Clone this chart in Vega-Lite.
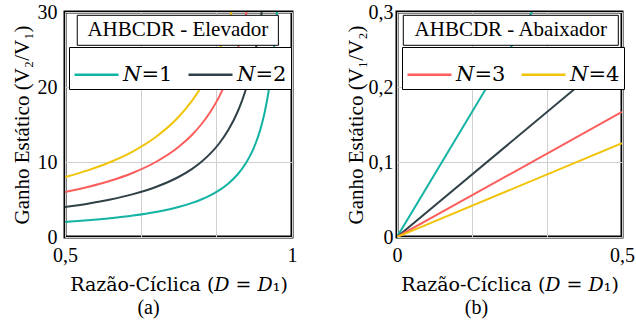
{
  "$schema": "https://vega.github.io/schema/vega-lite/v6.json",
  "padding": {"left": 9, "top": 0, "right": 0, "bottom": 0},
  "background": "white",
  "spacing": 44,
  "config": {
    "font": "Liberation Serif",
    "view": {"stroke": "black", "strokeWidth": 3},
    "axis": {"grid": true, "gridColor": "#cfcfcf", "gridWidth": 1, "domain": false, "ticks": false, "labelFont": "Liberation Serif", "labelFontSize": 20, "labelColor": "black", "labelFlush": false, "labelOverlap": false, "titleFont": "Liberation Serif", "titleFontSize": 21, "titleFontWeight": "normal", "titleColor": "black"},
    "legend": {"orient": "none", "direction": "horizontal", "strokeColor": "black", "fillColor": "white", "padding": 4, "symbolType": "stroke", "symbolSize": 1936, "symbolStrokeWidth": 2.5, "labelFont": "DejaVu Serif", "labelFontSize": 21, "labelColor": "black", "labelOffset": 3, "columnPadding": 10, "labelLimit": 0},
    "title": {"font": "Liberation Serif", "fontSize": 20, "fontWeight": "normal", "color": "black"}
  },
  "datasets": {
    "elev": [
      {"D":0.5,"G":2,"N":1},{"D":0.55,"G":2.222,"N":1},{"D":0.6,"G":2.5,"N":1},{"D":0.65,"G":2.857,"N":1},{"D":0.7,"G":3.333,"N":1},{"D":0.75,"G":4,"N":1},{"D":0.78,"G":4.545,"N":1},{"D":0.8,"G":5,"N":1},{"D":0.82,"G":5.556,"N":1},{"D":0.84,"G":6.25,"N":1},{"D":0.86,"G":7.143,"N":1},{"D":0.88,"G":8.333,"N":1},{"D":0.9,"G":10,"N":1},{"D":0.91,"G":11.111,"N":1},{"D":0.92,"G":12.5,"N":1},{"D":0.93,"G":14.286,"N":1},{"D":0.94,"G":16.667,"N":1},{"D":0.95,"G":20,"N":1},{"D":0.955,"G":22.222,"N":1},{"D":0.96,"G":25,"N":1},{"D":0.9667,"G":30,"N":1},
      {"D":0.5,"G":4,"N":2},{"D":0.55,"G":4.444,"N":2},{"D":0.6,"G":5,"N":2},{"D":0.65,"G":5.714,"N":2},{"D":0.7,"G":6.667,"N":2},{"D":0.75,"G":8,"N":2},{"D":0.78,"G":9.091,"N":2},{"D":0.8,"G":10,"N":2},{"D":0.82,"G":11.111,"N":2},{"D":0.84,"G":12.5,"N":2},{"D":0.86,"G":14.286,"N":2},{"D":0.88,"G":16.667,"N":2},{"D":0.89,"G":18.182,"N":2},{"D":0.9,"G":20,"N":2},{"D":0.91,"G":22.222,"N":2},{"D":0.92,"G":25,"N":2},{"D":0.925,"G":26.667,"N":2},{"D":0.9333,"G":30,"N":2},
      {"D":0.5,"G":6,"N":3},{"D":0.55,"G":6.667,"N":3},{"D":0.6,"G":7.5,"N":3},{"D":0.65,"G":8.571,"N":3},{"D":0.7,"G":10,"N":3},{"D":0.75,"G":12,"N":3},{"D":0.78,"G":13.636,"N":3},{"D":0.8,"G":15,"N":3},{"D":0.82,"G":16.667,"N":3},{"D":0.84,"G":18.75,"N":3},{"D":0.86,"G":21.429,"N":3},{"D":0.88,"G":25,"N":3},{"D":0.89,"G":27.273,"N":3},{"D":0.9,"G":30,"N":3},
      {"D":0.5,"G":8,"N":4},{"D":0.55,"G":8.889,"N":4},{"D":0.6,"G":10,"N":4},{"D":0.65,"G":11.429,"N":4},{"D":0.7,"G":13.333,"N":4},{"D":0.75,"G":16,"N":4},{"D":0.78,"G":18.182,"N":4},{"D":0.8,"G":20,"N":4},{"D":0.82,"G":22.222,"N":4},{"D":0.84,"G":25,"N":4},{"D":0.85,"G":26.667,"N":4},{"D":0.8667,"G":30,"N":4}
    ],
    "abai": [
      {"D":0,"G":0,"N":1},{"D":0.3,"G":0.3,"N":1},
      {"D":0,"G":0,"N":2},{"D":0.5,"G":0.25,"N":2},
      {"D":0,"G":0,"N":3},{"D":0.5,"G":0.1667,"N":3},
      {"D":0,"G":0,"N":4},{"D":0.5,"G":0.125,"N":4}
    ],
    "caixaA": [{"texto": "AHBCDR - Elevador"}],
    "caixaB": [{"texto": "AHBCDR - Abaixador"}]
  },
  "resolve": {"scale": {"color": "independent"}, "legend": {"color": "independent"}},
  "hconcat": [
    {
      "width": 227,
      "height": 225,
      "title": {"text": "(a)", "orient": "bottom", "frame": "group", "anchor": "middle", "dx": -30, "offset": 4},
      "layer": [
        {
          "data": {"name": "elev"},
          "mark": {"type": "line", "strokeWidth": 2, "interpolate": "monotone", "clip": true},
          "encoding": {
            "x": {"field": "D", "type": "quantitative", "scale": {"domain": [0.5, 1], "nice": false, "zero": false},
              "axis": {"values": [0.5, 0.583333, 0.666667, 0.75, 0.833333, 0.916667, 1], "labelPadding": 8, "titlePadding": 10, "titleFont": "DejaVu Serif", "titleFontSize": 19,
                "labelExpr": "(abs(datum.value-0.5)<1e-6 || abs(datum.value-0.75)<1e-6 || abs(datum.value-1)<1e-6) ? replace(format(datum.value, '~g'), '.', ',') : ''",
                "title": "Razão-Cíclica (𝐷 = 𝐷₁)"}},
            "y": {"field": "G", "type": "quantitative", "scale": {"domain": [0, 30], "nice": false},
              "axis": {"values": [0, 5, 10, 15, 20, 25, 30], "labelPadding": 8, "titlePadding": 5,
                "labelExpr": "datum.value % 10 == 0 ? datum.label : ''",
                "title": "Ganho Estático (V₂/V₁)"}},
            "color": {"field": "N", "type": "nominal",
              "scale": {"domain": [1, 2, 3, 4], "range": ["#12b3a3", "#2f4147", "#fb5e5c", "#f1c40a"]},
              "legend": {"values": [1, 2], "title": null, "legendX": 4, "legendY": 35, "labelExpr": "'𝑁=' + datum.label"}}
          }
        },
        {
          "data": {"name": "caixaA"},
          "mark": {"type": "rect", "fill": "white", "stroke": "black", "strokeWidth": 1},
          "encoding": {"x": {"datum": 0.527}, "x2": {"datum": 0.97}, "y": {"datum": 25.56}, "y2": {"datum": 29.56}}
        },
        {
          "data": {"name": "caixaA"},
          "mark": {"type": "text", "fontSize": 21, "font": "Liberation Serif", "color": "black", "baseline": "middle", "align": "center"},
          "encoding": {"x": {"datum": 0.7485}, "y": {"datum": 27.56}, "text": {"field": "texto"}}
        }
      ]
    },
    {
      "width": 225,
      "height": 225,
      "title": {"text": "(b)", "orient": "bottom", "frame": "group", "anchor": "middle", "dx": -33, "offset": 4},
      "layer": [
        {
          "data": {"name": "abai"},
          "mark": {"type": "line", "strokeWidth": 2, "clip": true},
          "encoding": {
            "x": {"field": "D", "type": "quantitative", "scale": {"domain": [0, 0.5], "nice": false},
              "axis": {"values": [0, 0.083333, 0.166667, 0.25, 0.333333, 0.416667, 0.5], "labelPadding": 8, "titlePadding": 10, "titleFont": "DejaVu Serif", "titleFontSize": 19,
                "labelExpr": "(abs(datum.value)<1e-6 || abs(datum.value-0.25)<1e-6 || abs(datum.value-0.5)<1e-6) ? replace(format(datum.value, '~g'), '.', ',') : ''",
                "title": "Razão-Cíclica (𝐷 = 𝐷₁)"}},
            "y": {"field": "G", "type": "quantitative", "scale": {"domain": [0, 0.3], "nice": false},
              "axis": {"values": [0, 0.05, 0.1, 0.15, 0.2, 0.25, 0.3], "labelPadding": 4, "titlePadding": 2,
                "labelExpr": "abs(datum.value*10 - round(datum.value*10)) < 1e-6 ? replace(format(datum.value, '~g'), '.', ',') : ''",
                "title": "Ganho Estático (V₁/V₂)"}},
            "color": {"field": "N", "type": "nominal",
              "scale": {"domain": [1, 2, 3, 4], "range": ["#12b3a3", "#2f4147", "#fb5e5c", "#f1c40a"]},
              "legend": {"values": [3, 4], "title": null, "legendX": 5, "legendY": 35, "labelExpr": "'𝑁=' + datum.label"}}
          }
        },
        {
          "data": {"name": "caixaB"},
          "mark": {"type": "rect", "fill": "white", "stroke": "black", "strokeWidth": 1},
          "encoding": {"x": {"datum": 0.014}, "x2": {"datum": 0.4918}, "y": {"datum": 0.2556}, "y2": {"datum": 0.2956}}
        },
        {
          "data": {"name": "caixaB"},
          "mark": {"type": "text", "fontSize": 21, "font": "Liberation Serif", "color": "black", "baseline": "middle", "align": "center"},
          "encoding": {"x": {"datum": 0.2529}, "y": {"datum": 0.2756}, "text": {"field": "texto"}}
        }
      ]
    }
  ]
}
